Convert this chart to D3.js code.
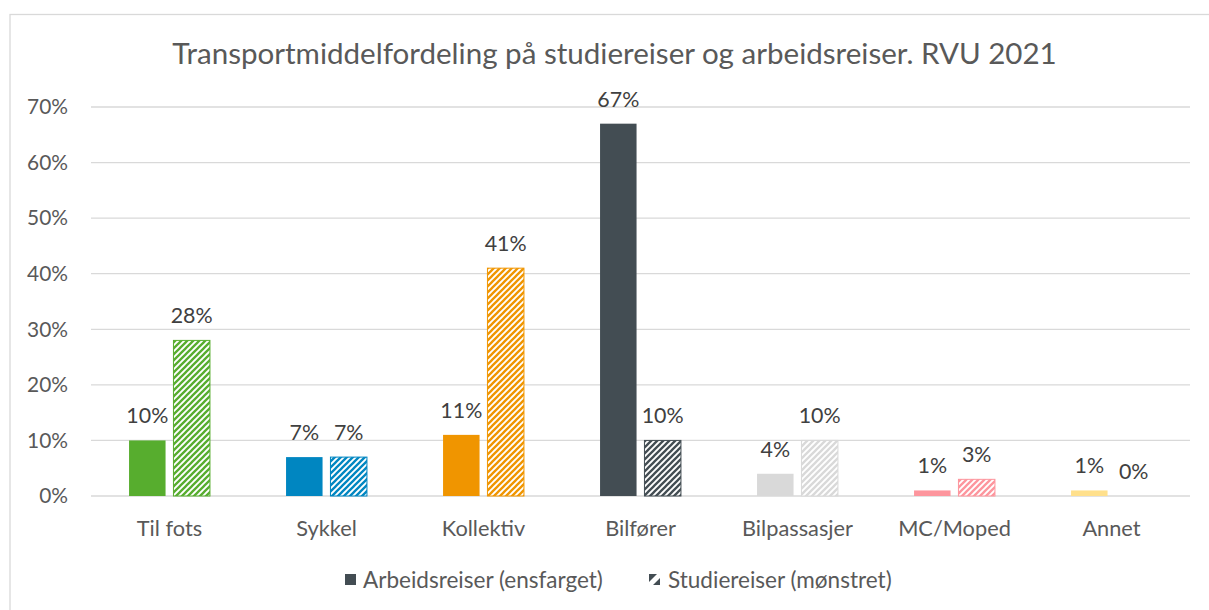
<!DOCTYPE html>
<html><head><meta charset="utf-8">
<script src="https://cdn.jsdelivr.net/npm/d3@7"></script>
<style>body{margin:0;background:#fff}svg{display:block}text{font-family:Lato,"Open Sans",sans-serif}</style>
</head><body>
<svg id="c" width="1209" height="610"></svg>
<script>
const categories = ["Til fots","Sykkel","Kollektiv","Bilfører","Bilpassasjer","MC/Moped","Annet"];
const arbeid = [10,7,11,67,4,1,1];
const studie = [28,7,41,10,10,3,0];
const colors = ["#57ad2e","#0086c1","#f09500","#434d53","#d9d9d9","#fd959d","#ffe08c"];
const yTicks = [0,10,20,30,40,50,60,70];
const seriesNames = ["Arbeidsreiser (ensfarget)","Studiereiser (mønstret)"];
const title = "Transportmiddelfordeling på studiereiser og arbeidsreiser. RVU 2021";

const svg = d3.select("#c");
const m = {l:91, r:1190, t:107, b:496};

function fit(sel, target){
  sel.each(function(){
    const n = this; let fs = parseFloat(n.getAttribute("font-size"));
    const w = n.getComputedTextLength();
    if (w>0) n.setAttribute("font-size", (fs*target/w).toFixed(2));
  });
}

// border
svg.append("rect").attr("x",10).attr("y",14.5).attr("width",1220).attr("height",620)
  .attr("fill","#fff").attr("stroke","#d9d9d9").attr("stroke-width",1.3);

const defs = svg.append("defs");
colors.forEach((c,i)=>{
  const p = defs.append("pattern").attr("id","p"+i).attr("patternUnits","userSpaceOnUse")
    .attr("width",6).attr("height",6);
  p.append("rect").attr("width",6).attr("height",6).attr("fill","#fff");
  p.append("path").attr("d","M-1.5,1.5 L1.5,-1.5 M0,6 L6,0 M4.5,7.5 L7.5,4.5")
    .attr("stroke",c).attr("stroke-width",2.3).attr("stroke-linecap","square");
});

const x = d3.scaleBand().domain(categories).range([m.l,m.r]);
const y = d3.scaleLinear().domain([0,70]).range([m.b,m.t]);

// grid
svg.append("g").selectAll("line").data(yTicks).join("line")
  .attr("x1",m.l).attr("x2",m.r).attr("y1",d=>y(d)).attr("y2",d=>y(d))
  .attr("stroke","#d9d9d9").attr("stroke-width",1.3);

// y labels
const yl = svg.append("g").selectAll("text").data(yTicks).join("text")
  .attr("x",68).attr("y",d=>y(d)).attr("dy","0.35em").attr("text-anchor","end")
  .attr("fill","#595959").attr("font-size",18).text(d=>d+"%");
{ const n = yl.filter(d=>d===70).node(); const fs = 18*41/n.getComputedTextLength(); yl.attr("font-size",fs); }

const bw = 36.5, off = 22.2;
const data = [];
categories.forEach((c,i)=>{
  data.push({c,i,v:arbeid[i],s:0});
  data.push({c,i,v:studie[i],s:1});
});
const cx = d=> x(d.c)+x.bandwidth()/2 + (d.s===0?-off:off);

svg.append("g").selectAll("rect").data(data.filter(d=>d.v>0)).join("rect")
  .attr("x",d=>cx(d)-bw/2).attr("width",bw)
  .attr("y",d=>y(d.v)).attr("height",d=>y(0)-y(d.v))
  .attr("fill",d=>d.s===0?colors[d.i]:`url(#p${d.i})`)
  .attr("stroke",d=>d.s===0?"none":colors[d.i]).attr("stroke-width",1);

const vl = svg.append("g").selectAll("text").data(data).join("text")
  .attr("x",cx).attr("y",d=>y(d.v)-17).attr("text-anchor","middle")
  .attr("fill","#404040").attr("font-size",18).text(d=>d.v+"%");
{ const n = vl.filter(d=>d.v===67).node(); const fs = 18*42/n.getComputedTextLength(); vl.attr("font-size",fs); }

const cl = svg.append("g").selectAll("text").data(categories).join("text")
  .attr("x",d=>x(d)+x.bandwidth()/2).attr("y",536).attr("text-anchor","middle")
  .attr("fill","#595959").attr("font-size",18).text(d=>d);
{ const n = cl.filter(d=>d==="Bilpassasjer").node(); const fs = 18*111/n.getComputedTextLength(); cl.attr("font-size",fs); }

const t = svg.append("text").attr("x",614.5).attr("y",63.5).attr("text-anchor","middle")
  .attr("fill","#595959").attr("font-size",26).text(title);
fit(t, 885);

// legend
const lg = svg.append("g");
const l1 = lg.append("text").attr("x",363).attr("y",588).attr("fill","#595959").attr("font-size",18).text(seriesNames[0]);
fit(l1, 240);
const lfs = l1.attr("font-size");
lg.append("text").attr("x",668).attr("y",588).attr("fill","#595959").attr("font-size",lfs).text(seriesNames[1]);
lg.append("rect").attr("x",345).attr("y",574).attr("width",11).attr("height",11).attr("fill",colors[3]);
const ig = lg.append("g").attr("transform","translate(649,574)");
ig.append("rect").attr("width",11).attr("height",11).attr("fill","#fff");
ig.append("path").attr("d","M0,0 L8,0 L0,8 Z M11,4 L11,11 L4,11 Z").attr("fill",colors[3]);
</script>
</body></html>
